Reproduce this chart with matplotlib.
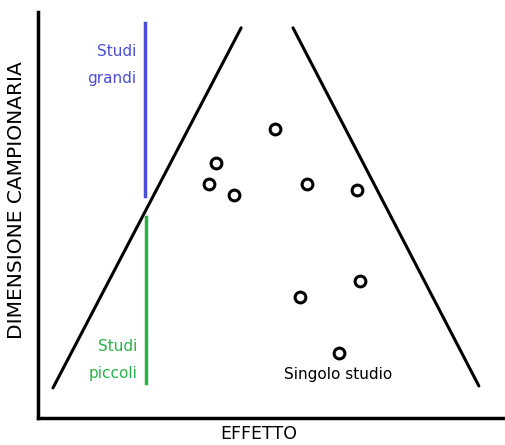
import matplotlib
matplotlib.use('Agg')
import matplotlib.pyplot as plt

# funnel edges (effect, sample size), on a 0-100 scale
left_edge_x = [3.2, 43.5]
left_edge_y = [7.4, 96.1]
right_edge_x = [54.6, 94.4]
right_edge_y = [96.1, 7.9]

# individual studies
study_x = [50.7, 38.1, 36.6, 42.0, 57.6, 68.3, 68.9, 56.1, 64.5]
study_y = [71.2, 62.8, 57.6, 54.9, 57.6, 56.2, 33.7, 29.8, 16.0]

# size bands
big_x, big_y = 22.9, [54.7, 97.3]
small_x, small_y = 23.1, [8.6, 49.5]

fig = plt.figure(figsize=(5.05, 4.45), dpi=100)
ax = fig.add_axes([38 / 505, 27 / 445, 467 / 505, 406 / 445])
ax.set_xlim(0, 100)
ax.set_ylim(0, 100)

ax.plot(left_edge_x, left_edge_y, color='black', lw=2.2, solid_capstyle='round')
ax.plot(right_edge_x, right_edge_y, color='black', lw=2.2, solid_capstyle='round')

ax.scatter(study_x, study_y, s=60, facecolors='white', edgecolors='black',
           linewidths=2.2, zorder=3)

ax.plot([big_x, big_x], big_y, color='#4a4fd6', lw=2.5)
ax.plot([small_x, small_x], small_y, color='#2ab24a', lw=2.5)

ax.text(21.0, 86.9, 'Studi\ngrandi', color='#4a4fd6', ha='right', va='center',
        fontsize=11, linespacing=2.0)
ax.text(21.2, 14.3, 'Studi\npiccoli', color='#2ab24a', ha='right', va='center',
        fontsize=11, linespacing=2.0)
ax.text(64.2, 10.6, 'Singolo studio', color='black', ha='center', va='center',
        fontsize=11)

for side in ['top', 'right']:
    ax.spines[side].set_visible(False)
for side in ['left', 'bottom']:
    ax.spines[side].set_linewidth(2.5)
ax.set_xticks([])
ax.set_yticks([])

ax.set_xlabel('EFFETTO', fontsize=12.5)
ax.set_ylabel('DIMENSIONE CAMPIONARIA', fontsize=14.5)
ax.xaxis.set_label_coords(0.473, -0.039, transform=ax.transAxes)
ax.xaxis.label.set_va('center')
ax.yaxis.set_label_coords(-0.047, 0.537, transform=ax.transAxes)
ax.yaxis.label.set_va('center')

fig.savefig('out.png', dpi=100)
